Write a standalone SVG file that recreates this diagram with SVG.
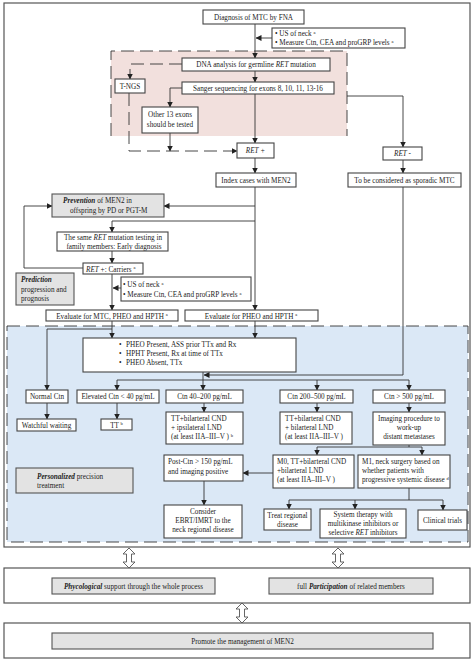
<svg xmlns="http://www.w3.org/2000/svg" width="474" height="662" viewBox="0 0 474 662">
<style>
text{font-family:"Liberation Serif","Times New Roman",serif;font-size:7.2px;fill:#222}
.c{text-anchor:middle}
.bi{font-weight:bold;font-style:italic}
.i{font-style:italic}
.sup{font-size:4.5px}
.b{fill:#fff;stroke:#444;stroke-width:1.1}
.g{fill:#e3e3e3;stroke:#555;stroke-width:1.1}
.l{fill:none;stroke:#333;stroke-width:0.9}
.la{fill:none;stroke:#333;stroke-width:0.9;marker-end:url(#ah)}
.d{fill:none;stroke:#333;stroke-width:0.9;stroke-dasharray:13,6}
.da{fill:none;stroke:#333;stroke-width:0.9;stroke-dasharray:13,6;marker-end:url(#ah)}
.h{fill:#fff;stroke:#555;stroke-width:0.9}
.frame{fill:#fff;stroke:#555;stroke-width:1.2}
</style>
<defs>
<marker id="ah" markerUnits="userSpaceOnUse" markerWidth="6" markerHeight="6" refX="5.5" refY="3" orient="auto"><path d="M0,0 L6,3 L0,6 z" fill="#222"/></marker>
</defs>
<rect width="474" height="662" fill="#fff"/>
<rect class="frame" x="4" y="3" width="466" height="544"/>
<g id="pink-region">
<rect x="111" y="51" width="236" height="85" fill="#f2e0dd"/>
<path class="d" d="M111,136 V51 H347 V136"/>
</g>
<g id="blue-region">
<rect x="7" y="326" width="461" height="216" fill="#dbe8f6"/>
<rect x="7" y="326" width="461" height="216" class="d"/>
</g>
<g id="connectors">
<path class="la" d="M255,24 V58"/>
<path class="la" d="M272,38 H256"/>
<path class="la" d="M255,71 V82"/>
<path class="da" d="M182,64 H130 V79"/>
<path class="la" d="M182,88 H170 V107"/>
<path class="la" d="M170,133 V151"/>
<path class="da" d="M129,93 V151 H237"/>
<path class="la" d="M255,94 V143"/>
<path class="la" d="M347,96 H403 V147"/>
<path class="la" d="M255,158 V173"/>
<path class="la" d="M403,160 V173"/>
<path class="la" d="M255,187 V310"/>
<path class="la" d="M255,206 H164"/>
<path class="la" d="M255,221 H112 V232"/>
<path class="la" d="M112,251 V263"/>
<path class="la" d="M83,268 H24 V206 H52"/>
<path class="la" d="M112,274 V310"/>
<path class="la" d="M121,288 H113"/>
<path class="la" d="M112,321 V338"/>
<path class="la" d="M255,321 V338"/>
<path class="la" d="M112,329 H47 V390"/>
<path class="la" d="M403,187 V375 H204"/>
<path class="l" d="M203,372 V380 M117,380 H409"/>
<path class="la" d="M117,380 V390"/>
<path class="la" d="M203,380 V390"/>
<path class="la" d="M317,380 V390"/>
<path class="la" d="M409,380 V390"/>
<path class="la" d="M47,403 V419"/>
<path class="la" d="M117,403 V419"/>
<path class="la" d="M204,403 V412"/>
<path class="la" d="M317,403 V412"/>
<path class="la" d="M409,403 V412"/>
<path class="l" d="M409,445 V447 M317,447 H422"/>
<path class="la" d="M317,447 V455"/>
<path class="la" d="M422,447 V455"/>
<path class="la" d="M273,473 H243"/>
<path class="la" d="M204,481 V505"/>
<path class="l" d="M409,488 V500 M289,500 H443"/>
<path class="la" d="M289,500 V509"/>
<path class="la" d="M355,500 V509"/>
<path class="la" d="M443,500 V510"/>
<polygon class="h" points="129,548 135,554 131.5,554 131.5,562 135,562 129,568 123,562 126.5,562 126.5,554 123,554"/>
<polygon class="h" points="338,548 344,554 340.5,554 340.5,562 344,562 338,568 332,562 335.5,562 335.5,554 332,554"/>
<polygon class="h" points="242,603 248,609 244.5,609 244.5,617 248,617 242,623 236,617 239.5,617 239.5,609 236,609"/>
</g>
<g id="n-diagnosis"><rect class="b" x="203" y="10" width="101" height="14"/><text class="c" x="253.5" y="20">Diagnosis of MTC by FNA</text></g>
<g id="n-us1"><rect class="b" x="272" y="28" width="133" height="20"/>
<text x="275" y="36">• US of neck <tspan class="sup" dy="-2.5">a</tspan></text>
<text x="275" y="45">• Measure Ctn, CEA and proGRP levels <tspan class="sup" dy="-2.5">a</tspan></text></g>
<g id="n-dna"><rect class="b" x="182" y="58" width="148" height="13"/><text class="c" x="256" y="67">DNA analysis for germline <tspan class="i">RET</tspan> mutation</text></g>
<g id="n-tngs"><rect class="b" x="115" y="79" width="30" height="14"/><text class="c" x="130" y="89">T-NGS</text></g>
<g id="n-sanger"><rect class="b" x="182" y="82" width="152" height="12"/><text class="c" x="258" y="91">Sanger sequencing for exons 8, 10, 11, 13-16</text></g>
<g id="n-other"><rect class="b" x="142" y="107" width="56" height="26"/><text class="c" x="170" y="117">Other 13 exons</text><text class="c" x="170" y="127">should be tested</text></g>
<g id="n-retpos"><rect class="b" x="237" y="143" width="37" height="15"/><text class="c i" x="255.5" y="153">RET +</text></g>
<g id="n-retneg"><rect class="b" x="383" y="147" width="39" height="13"/><text class="c" x="402.5" y="156"><tspan class="i">RET</tspan> -</text></g>
<g id="n-index"><rect class="b" x="216" y="173" width="80" height="14"/><text class="c" x="256" y="183">Index cases with MEN2</text></g>
<g id="n-sporadic"><rect class="b" x="348" y="173" width="113" height="14"/><text class="c" x="404.5" y="183">To be considered as sporadic MTC</text></g>
<g id="n-prevention"><rect class="g" x="52" y="194" width="112" height="23"/>
<text x="63" y="203"><tspan class="bi">Prevention</tspan> of MEN2 in</text><text x="70" y="213">offspring by PD or PGT-M</text></g>
<g id="n-same"><rect class="b" x="57" y="232" width="111" height="19"/>
<text class="c" x="113" y="240">The same <tspan class="i">RET</tspan> mutation testing  in</text><text class="c" x="114" y="249">family members: Early diagnosis</text></g>
<g id="n-carriers"><rect class="b" x="83" y="263" width="60" height="11"/><text x="86" y="271.5"><tspan class="i">RET</tspan> +: Carriers <tspan class="sup" dy="-2.5">a</tspan></text></g>
<g id="n-prediction"><rect class="g" x="16" y="273" width="58" height="32"/>
<text x="21" y="282" class="bi">Prediction</text><text x="21" y="292">progression and</text><text x="21" y="301">prognosis</text></g>
<g id="n-us2"><rect class="b" x="121" y="277" width="130" height="24"/>
<text x="123" y="287">• US of neck <tspan class="sup" dy="-2.5">a</tspan></text>
<text x="123" y="297">• Measure Ctn, CEA and proGRP levels <tspan class="sup" dy="-2.5">a</tspan></text></g>
<g id="n-evalmtc"><rect class="b" x="46" y="310" width="132" height="11"/><text class="c" x="112" y="318.5">Evaluate for MTC, PHEO and HPTH <tspan class="sup" dy="-2.5">a</tspan></text></g>
<g id="n-evalpheo"><rect class="b" x="185" y="310" width="133" height="11"/><text class="c" x="251" y="318.5">Evaluate for PHEO and HPTH <tspan class="sup" dy="-2.5">a</tspan></text></g>
<g id="n-pheo"><rect class="b" x="83" y="338" width="213" height="34"/>
<text x="119" y="347">•</text><text x="126" y="347">PHEO Present, ASS prior TTx and Rx</text>
<text x="119" y="356">•</text><text x="126" y="356">HPHT Present, Rx at time of TTx</text>
<text x="119" y="365">•</text><text x="126" y="365">PHEO Absent, TTx</text></g>
<g id="n-normal"><rect class="b" x="26" y="390" width="42" height="13"/><text class="c" x="47" y="399">Normal Ctn</text></g>
<g id="n-elev"><rect class="b" x="77" y="390" width="82" height="13"/><text class="c" x="118" y="399">Elevated Ctn &lt; 40 pg/mL</text></g>
<g id="n-ctn40"><rect class="b" x="166" y="390" width="77" height="13"/><text class="c" x="204.5" y="399">Ctn 40–200 pg/mL</text></g>
<g id="n-ctn200"><rect class="b" x="280" y="390" width="73" height="13"/><text class="c" x="316.5" y="399">Ctn 200–500 pg/mL</text></g>
<g id="n-ctn500"><rect class="b" x="373" y="390" width="72" height="13"/><text class="c" x="409" y="399">Ctn &gt; 500 pg/mL</text></g>
<g id="n-watch"><rect class="b" x="17" y="419" width="59" height="12"/><text class="c" x="46.5" y="428">Watchful waiting</text></g>
<g id="n-tt"><rect class="b" x="101" y="419" width="31" height="11"/><text class="c" x="116.5" y="427.5">TT <tspan class="sup" dy="-2.5">b</tspan></text></g>
<g id="n-ttipsi"><rect class="b" x="166" y="412" width="77" height="32"/>
<text x="171" y="421">TT+bilarteral CND</text><text x="171" y="430">+ ipsilateral LND</text><text x="171" y="439">(at least IIA–III–V ) <tspan class="sup" dy="-2.5">b</tspan></text></g>
<g id="n-ttbil"><rect class="b" x="280" y="412" width="72" height="32"/>
<text x="285" y="421">TT+bilarteral CND</text><text x="285" y="430">+ bilarteral LND</text><text x="285" y="439">(at least IIA–III–V )</text></g>
<g id="n-imaging"><rect class="b" x="373" y="412" width="72" height="33"/>
<text class="c" x="409" y="421">Imaging procedure to</text><text class="c" x="409" y="430">work-up</text><text class="c" x="409" y="439">distant metastases</text></g>
<g id="n-post"><rect class="b" x="164" y="455" width="79" height="26"/>
<text x="168" y="464">Post-Ctn &gt; 150 pg/mL</text><text x="168" y="474">and imaging positive</text></g>
<g id="n-m0"><rect class="b" x="273" y="455" width="81" height="33"/>
<text x="277" y="464">M0, TT+bilarteral CND</text><text x="277" y="473">+bilarteral LND</text><text x="277" y="482">(at least IIA–III–V )</text></g>
<g id="n-m1"><rect class="b" x="358" y="455" width="92" height="33"/>
<text x="362" y="464">M1, neck surgery based on</text><text x="362" y="473">whether patients with</text><text x="362" y="482">progressive systemic disease <tspan class="sup" dy="-2.5">d</tspan></text></g>
<g id="n-personalized"><rect class="g" x="16" y="468" width="117" height="25"/>
<text x="37" y="479"><tspan class="bi">Personalized</tspan> precision</text><text x="37" y="488">treatment</text></g>
<g id="n-consider"><rect class="b" x="164" y="505" width="78" height="33"/>
<text class="c" x="203" y="514">Consider</text><text class="c" x="203" y="523">EBRT/IMRT to the</text><text class="c" x="203" y="532">neck regional disease</text></g>
<g id="n-treat"><rect class="b" x="264" y="509" width="47" height="21"/>
<text class="c" x="287.5" y="517.5">Treat regional</text><text class="c" x="287.5" y="526.5">disease</text></g>
<g id="n-system"><rect class="b" x="320" y="509" width="86" height="29"/>
<text class="c" x="363" y="517">System therapy with</text><text class="c" x="363" y="526">multikinase inhibitors or</text><text class="c" x="363" y="535">selective <tspan class="i">RET</tspan> inhibitors</text></g>
<g id="n-clinical"><rect class="b" x="418" y="510" width="49" height="20"/><text class="c" x="442.5" y="522.5">Clinical trials</text></g>
<g id="n-support"><rect class="frame" x="4" y="568" width="466" height="35"/>
<rect class="g" x="52" y="578" width="163" height="16"/><text class="c" x="133.5" y="588.5"><tspan class="bi">Phycological</tspan> support through the whole process</text>
<rect class="g" x="269" y="578" width="164" height="16"/><text class="c" x="351" y="588.5">full <tspan class="bi">Participation</tspan> of related members</text></g>
<g id="n-promote"><rect class="frame" x="4" y="623" width="466" height="35"/>
<rect class="g" x="52" y="633" width="381" height="16"/><text class="c" x="242.5" y="643.5">Promote the management of MEN2</text></g>
</svg>
